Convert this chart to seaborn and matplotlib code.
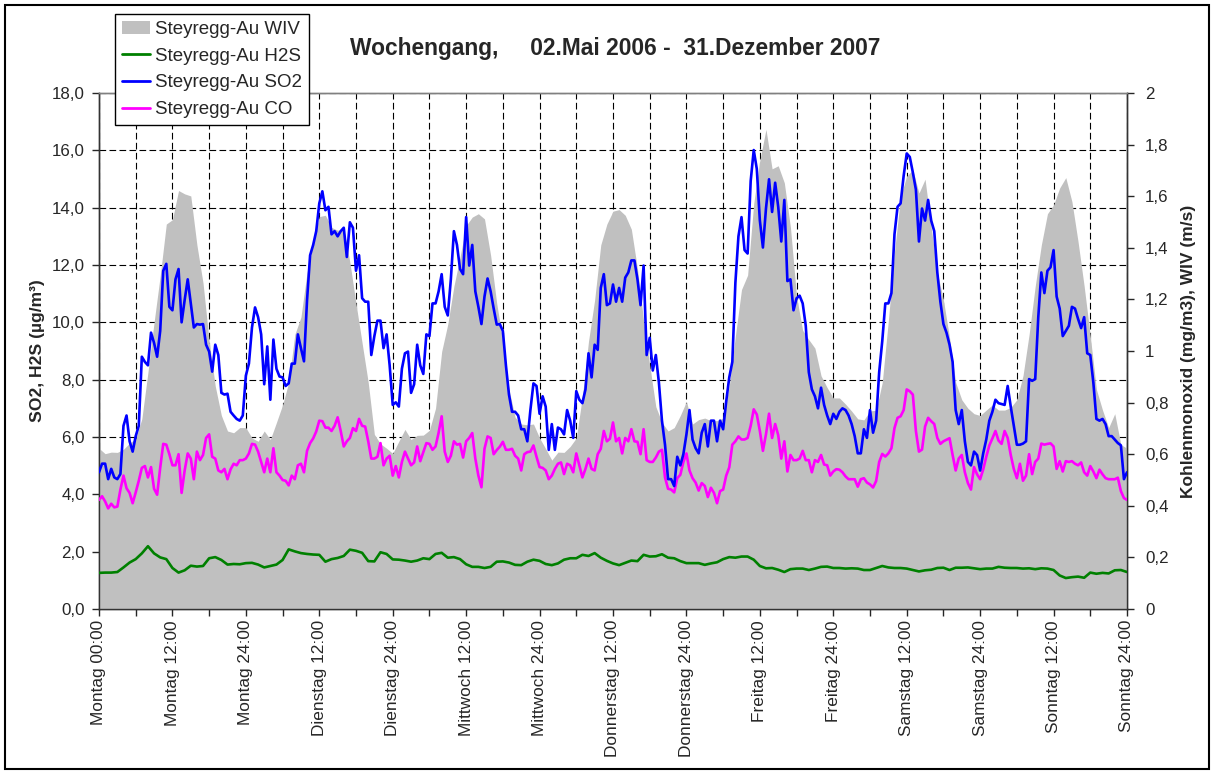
import numpy as np
import seaborn as sns
import matplotlib.pyplot as plt
from matplotlib.ticker import MultipleLocator, FuncFormatter
from matplotlib.patches import Patch, Rectangle
from matplotlib.lines import Line2D

# Wochengang Steyregg-Au, Stundenwerte (WIV, H2S) und Halbstundenwerte (SO2, CO)
# WIV in m/s (rechte Achse)
wiv = [0.623, 0.602, 0.608, 0.607, 0.619, 0.643, 0.660, 0.737, 0.918, 1.111,
       1.291, 1.492, 1.509, 1.622, 1.609, 1.601, 1.411, 1.264, 1.038, 0.864,
       0.750, 0.690, 0.683, 0.703, 0.703, 0.663, 0.650, 0.690, 0.657, 0.723,
       0.791, 0.878, 1.064, 1.131, 1.304, 1.418, 1.521, 1.526, 1.479, 1.468,
       1.472, 1.344, 1.184, 1.031, 0.878, 0.677, 0.640, 0.623, 0.603, 0.650,
       0.696, 0.657, 0.673, 0.674, 0.693, 0.778, 0.998, 1.104, 1.251, 1.364,
       1.486, 1.519, 1.532, 1.512, 1.371, 1.184, 1.038, 0.851, 0.743, 0.717,
       0.714, 0.717, 0.663, 0.621, 0.577, 0.608, 0.607, 0.630, 0.663, 0.824,
       1.038, 1.198, 1.411, 1.492, 1.542, 1.548, 1.526, 1.472, 1.318, 1.118,
       0.944, 0.784, 0.723, 0.690, 0.703, 0.750, 0.804, 0.717, 0.734, 0.740,
       0.730, 0.730, 0.741, 0.864, 1.058, 1.238, 1.294, 1.572, 1.739, 1.859,
       1.706, 1.718, 1.652, 1.479, 1.211, 1.080, 1.044, 1.011, 0.904, 0.858,
       0.818, 0.818, 0.794, 0.767, 0.737, 0.733, 0.768, 0.770, 0.878, 1.118,
       1.384, 1.599, 1.678, 1.702, 1.612, 1.666, 1.479, 1.304, 1.198, 1.051,
       0.878, 0.811, 0.778, 0.757, 0.750, 0.771, 0.791, 0.771, 0.771, 0.781,
       0.811, 0.904, 1.064, 1.251, 1.411, 1.532, 1.566, 1.632, 1.672, 1.579,
       1.424, 1.251, 1.058, 0.851, 0.771, 0.703, 0.757, 0.637, 0.623]

# H2S in µg/m³ (linke Achse)
h2s = [1.26, 1.27, 1.27, 1.29, 1.45, 1.62, 1.74, 1.94, 2.19, 1.94,
       1.80, 1.74, 1.43, 1.27, 1.35, 1.51, 1.48, 1.50, 1.77, 1.81,
       1.71, 1.55, 1.57, 1.56, 1.60, 1.61, 1.55, 1.45, 1.50, 1.55,
       1.71, 2.08, 2.01, 1.95, 1.92, 1.90, 1.89, 1.65, 1.74, 1.78,
       1.85, 2.07, 2.03, 1.96, 1.67, 1.66, 1.98, 1.92, 1.73, 1.72,
       1.69, 1.65, 1.69, 1.77, 1.74, 1.92, 1.96, 1.79, 1.81, 1.74,
       1.56, 1.47, 1.47, 1.43, 1.47, 1.65, 1.66, 1.62, 1.54, 1.53,
       1.65, 1.72, 1.68, 1.57, 1.53, 1.59, 1.72, 1.77, 1.77, 1.89,
       1.85, 1.95, 1.79, 1.68, 1.59, 1.53, 1.61, 1.69, 1.67, 1.89,
       1.83, 1.84, 1.91, 1.79, 1.77, 1.67, 1.60, 1.60, 1.60, 1.54,
       1.59, 1.63, 1.74, 1.81, 1.79, 1.83, 1.83, 1.72, 1.50, 1.42,
       1.43, 1.37, 1.29, 1.39, 1.41, 1.41, 1.36, 1.41, 1.47, 1.48,
       1.43, 1.43, 1.41, 1.42, 1.41, 1.36, 1.36, 1.43, 1.50, 1.45,
       1.43, 1.43, 1.41, 1.36, 1.31, 1.35, 1.37, 1.43, 1.44, 1.36,
       1.44, 1.44, 1.45, 1.42, 1.39, 1.41, 1.41, 1.47, 1.44, 1.43,
       1.43, 1.41, 1.42, 1.39, 1.42, 1.41, 1.36, 1.17, 1.08, 1.11,
       1.13, 1.09, 1.27, 1.23, 1.26, 1.24, 1.35, 1.36, 1.29]

# SO2 in µg/m³ (linke Achse), halbstündlich
so2 = [4.77, 5.07, 5.07, 4.53, 4.89, 4.59, 4.53, 4.71, 6.39, 6.75,
       5.85, 5.49, 6.03, 6.39, 8.80, 8.62, 8.50, 9.64, 9.28, 8.80,
       9.70, 11.80, 12.04, 10.54, 10.42, 11.50, 11.86, 10.00, 10.78, 11.50,
       10.66, 9.82, 9.94, 9.92, 9.94, 9.22, 8.98, 8.28, 9.22, 8.86,
       7.54, 7.48, 7.51, 6.88, 6.75, 6.63, 6.57, 6.75, 8.14, 8.56,
       9.82, 10.52, 10.18, 9.58, 7.84, 9.16, 7.30, 9.40, 8.38, 8.11,
       8.08, 7.78, 7.87, 8.56, 8.56, 9.58, 9.10, 8.64, 10.78, 12.34,
       12.70, 13.18, 14.15, 14.57, 13.91, 14.03, 13.07, 13.18, 13.00, 13.18,
       13.30, 12.28, 13.49, 13.30, 11.80, 12.34, 10.84, 10.72, 10.72, 8.86,
       9.52, 10.06, 10.06, 9.10, 9.58, 8.50, 7.12, 7.21, 7.06, 8.38,
       8.92, 8.98, 7.54, 7.84, 9.22, 8.50, 8.20, 9.58, 9.52, 10.66,
       10.66, 11.08, 11.68, 10.54, 10.24, 11.50, 13.18, 12.70, 11.86, 11.68,
       13.67, 11.98, 12.70, 11.08, 10.54, 9.94, 10.90, 11.53, 11.08, 10.48,
       9.92, 9.94, 9.70, 8.50, 7.48, 6.88, 6.88, 6.75, 6.27, 6.27,
       5.85, 6.94, 7.87, 7.78, 6.81, 7.42, 7.06, 5.55, 6.45, 5.55,
       6.33, 6.27, 6.09, 6.94, 6.57, 5.97, 7.60, 7.30, 7.18, 7.66,
       8.92, 8.08, 9.22, 9.04, 11.20, 11.68, 10.60, 10.66, 11.32, 10.72,
       11.20, 10.72, 11.56, 11.74, 12.16, 12.16, 11.50, 10.60, 11.98, 8.86,
       9.46, 8.32, 8.86, 7.90, 6.57, 5.73, 4.53, 4.53, 4.29, 5.31,
       5.01, 5.40, 6.09, 6.94, 5.91, 5.61, 5.43, 6.15, 6.45, 5.67,
       6.57, 6.57, 5.85, 6.57, 6.27, 7.24, 8.08, 8.62, 11.38, 13.00,
       13.67, 12.52, 12.40, 14.93, 16.01, 15.35, 13.55, 12.61, 13.97, 14.99,
       13.85, 14.87, 14.03, 12.82, 14.27, 11.44, 11.50, 10.42, 10.84, 10.93,
       10.66, 9.88, 8.26, 7.66, 7.42, 7.00, 7.72, 7.12, 6.75, 6.45,
       6.81, 6.63, 6.88, 7.00, 6.94, 6.75, 6.45, 6.03, 5.43, 5.43,
       6.27, 5.97, 6.94, 6.15, 6.57, 8.26, 9.34, 10.66, 10.66, 11.02,
       13.07, 14.03, 14.15, 15.11, 15.89, 15.77, 15.23, 14.63, 12.82, 13.97,
       13.55, 14.27, 13.55, 13.18, 11.74, 10.72, 9.94, 9.64, 9.22, 8.62,
       6.94, 6.45, 6.94, 5.85, 5.13, 5.01, 5.49, 5.37, 4.83, 5.43,
       5.91, 6.57, 6.88, 7.30, 7.18, 7.15, 7.12, 7.78, 7.06, 6.39,
       5.73, 5.73, 5.77, 5.85, 8.02, 7.96, 8.02, 10.18, 11.74, 11.02,
       11.80, 11.92, 12.52, 10.90, 10.48, 9.52, 9.70, 9.88, 10.54, 10.48,
       10.12, 9.80, 10.18, 8.92, 8.86, 7.90, 6.63, 6.57, 6.63, 6.45,
       6.03, 6.03, 5.91, 5.79, 5.71, 4.53, 4.77]

# CO in mg/m³ (rechte Achse), halbstündlich
co = [0.423, 0.437, 0.417, 0.390, 0.408, 0.394, 0.397, 0.463, 0.517, 0.468,
      0.450, 0.410, 0.452, 0.497, 0.547, 0.554, 0.510, 0.550, 0.466, 0.443,
      0.547, 0.640, 0.637, 0.600, 0.557, 0.557, 0.600, 0.450, 0.537, 0.603,
      0.583, 0.503, 0.610, 0.577, 0.597, 0.663, 0.677, 0.590, 0.583, 0.537,
      0.530, 0.543, 0.503, 0.541, 0.563, 0.557, 0.577, 0.577, 0.583, 0.603,
      0.640, 0.637, 0.610, 0.570, 0.530, 0.583, 0.530, 0.623, 0.530, 0.517,
      0.500, 0.497, 0.479, 0.517, 0.503, 0.557, 0.563, 0.530, 0.613, 0.643,
      0.661, 0.688, 0.730, 0.728, 0.703, 0.703, 0.690, 0.710, 0.743, 0.690,
      0.630, 0.650, 0.663, 0.701, 0.690, 0.737, 0.710, 0.707, 0.650, 0.583,
      0.583, 0.590, 0.643, 0.557, 0.583, 0.594, 0.517, 0.554, 0.510, 0.570,
      0.610, 0.583, 0.557, 0.568, 0.630, 0.573, 0.608, 0.643, 0.640, 0.617,
      0.630, 0.683, 0.747, 0.610, 0.570, 0.594, 0.650, 0.637, 0.640, 0.587,
      0.650, 0.663, 0.682, 0.583, 0.517, 0.472, 0.621, 0.669, 0.663, 0.600,
      0.616, 0.629, 0.648, 0.617, 0.617, 0.621, 0.594, 0.583, 0.537, 0.600,
      0.608, 0.610, 0.634, 0.590, 0.550, 0.547, 0.537, 0.503, 0.517, 0.543,
      0.563, 0.568, 0.523, 0.563, 0.557, 0.530, 0.603, 0.557, 0.510, 0.543,
      0.583, 0.543, 0.537, 0.600, 0.621, 0.690, 0.650, 0.660, 0.723, 0.650,
      0.663, 0.603, 0.663, 0.650, 0.697, 0.650, 0.648, 0.600, 0.697, 0.577,
      0.570, 0.570, 0.587, 0.610, 0.617, 0.510, 0.466, 0.463, 0.452, 0.507,
      0.520, 0.570, 0.603, 0.537, 0.507, 0.490, 0.459, 0.488, 0.477, 0.434,
      0.470, 0.450, 0.410, 0.457, 0.463, 0.517, 0.549, 0.637, 0.650, 0.669,
      0.657, 0.657, 0.663, 0.710, 0.774, 0.754, 0.690, 0.613, 0.677, 0.757,
      0.663, 0.717, 0.674, 0.583, 0.650, 0.533, 0.597, 0.577, 0.577, 0.583,
      0.613, 0.577, 0.577, 0.530, 0.577, 0.570, 0.597, 0.560, 0.557, 0.517,
      0.533, 0.542, 0.540, 0.530, 0.514, 0.503, 0.503, 0.503, 0.474, 0.503,
      0.507, 0.490, 0.483, 0.471, 0.496, 0.570, 0.601, 0.591, 0.603, 0.623,
      0.701, 0.741, 0.747, 0.771, 0.851, 0.844, 0.831, 0.690, 0.610, 0.618,
      0.707, 0.741, 0.728, 0.717, 0.663, 0.640, 0.650, 0.656, 0.662, 0.597,
      0.537, 0.583, 0.597, 0.530, 0.488, 0.463, 0.550, 0.522, 0.503, 0.541,
      0.590, 0.634, 0.661, 0.690, 0.653, 0.640, 0.690, 0.663, 0.597, 0.543,
      0.507, 0.563, 0.497, 0.517, 0.600, 0.523, 0.570, 0.583, 0.641, 0.637,
      0.640, 0.642, 0.630, 0.543, 0.573, 0.533, 0.573, 0.570, 0.573, 0.563,
      0.557, 0.568, 0.530, 0.517, 0.554, 0.533, 0.507, 0.540, 0.522, 0.507,
      0.503, 0.503, 0.503, 0.509, 0.457, 0.430, 0.423]

tick_labels = ["Montag 00:00", "Montag 12:00", "Montag 24:00", "Dienstag 12:00",
               "Dienstag 24:00", "Mittwoch 12:00", "Mittwoch 24:00",
               "Donnerstag 12:00", "Donnerstag 24:00", "Freitag 12:00",
               "Freitag 24:00", "Samstag 12:00", "Samstag 24:00",
               "Sonntag 12:00", "Sonntag 24:00"]

t_h = np.linspace(0, 168, len(wiv))
t_hh = np.linspace(0, 168, len(so2))

sns.set_theme(style="white")
plt.rcParams['font.family'] = ['Liberation Sans', 'DejaVu Sans']

fig = plt.figure(figsize=(12.14, 7.74), dpi=100)
rect = [99/1214, 165/774, 1028/1214, 516/774]

# unterste Ebene: Gitter + linke Achse
ax = fig.add_axes(rect)
ax.set_zorder(1)
ax.set_xlim(0, 168)
ax.set_ylim(0, 18)
ax.xaxis.set_major_locator(MultipleLocator(12))
ax.xaxis.set_minor_locator(MultipleLocator(6))
ax.yaxis.set_major_locator(MultipleLocator(2))
ax.set_xticks(np.arange(0, 169, 12))
ax.set_xticklabels(tick_labels, rotation=90, fontsize=12.4)
ax.yaxis.set_major_formatter(FuncFormatter(lambda v, _: f"{v:.1f}".replace(".", ",")))
ax.tick_params(axis="y", labelsize=12.2, direction="out", length=5, width=1, pad=5, left=True)
ax.tick_params(axis="x", which="both", direction="out", length=5, width=1, pad=3, bottom=True)
ax.grid(True, axis="x", which="both", color="black", linestyle=(0, (6, 3)), linewidth=0.8)
ax.grid(True, axis="y", which="major", color="black", linestyle=(0, (6, 3)), linewidth=0.8)
ax.set_ylabel("SO2, H2S (µg/m³)", fontsize=12.6, fontweight="bold", labelpad=5)

# mittlere Ebene: rechte Achse, WIV-Flaeche und CO
axr = ax.twinx()
axr.set_zorder(2)
axr.patch.set_visible(False)
axr.set_ylim(0, 2)
axr.fill_between(t_h, wiv, 0, color="#C0C0C0", linewidth=0, zorder=1)
sns.lineplot(x=t_hh, y=co, ax=axr, color="#FF00FF", linewidth=1.9, zorder=3, legend=False)
axr.yaxis.set_major_locator(MultipleLocator(0.2))
axr.yaxis.set_major_formatter(FuncFormatter(
    lambda v, _: f"{v:.1f}".rstrip("0").rstrip(".").replace(".", ",")))
axr.tick_params(axis="y", labelsize=12.2, direction="out", length=5, width=1, pad=8, right=True)
axr.set_ylabel("Kohlenmonoxid (mg/m3), WIV (m/s)", fontsize=12.5, fontweight="bold", labelpad=9)
axr.set_xlim(0, 168)

# oberste Ebene: SO2 und H2S
axl = fig.add_axes(rect, sharex=ax, sharey=ax)
axl.set_zorder(3)
axl.patch.set_visible(False)
sns.lineplot(x=t_h, y=h2s, ax=axl, color="#008000", linewidth=1.9, legend=False)
sns.lineplot(x=t_hh, y=so2, ax=axl, color="#0000FF", linewidth=1.9, legend=False)
axl.set_axis_off()

for a in (ax, axr):
    for s in a.spines.values():
        s.set_color("#333333")
        s.set_linewidth(1.0)
    a.spines["top"].set_color("#808080")
    a.set_xlabel("")

handles = [Patch(facecolor="#C0C0C0", edgecolor="none"),
           Line2D([], [], color="#008000", linewidth=2),
           Line2D([], [], color="#0000FF", linewidth=2),
           Line2D([], [], color="#FF00FF", linewidth=2)]
labels = ["Steyregg-Au WIV", "Steyregg-Au H2S", "Steyregg-Au SO2", "Steyregg-Au CO"]
leg = fig.legend(handles, labels, loc="upper left", bbox_to_anchor=(115/1214, 1 - 14/774),
                 fontsize=13.5, frameon=True, fancybox=False, framealpha=1,
                 edgecolor="black", borderpad=0.35, labelspacing=0.52,
                 handlelength=1.5, handletextpad=0.3, borderaxespad=0)
leg.get_frame().set_linewidth(1.0)

fig.text(615/1214, 1 - 48/774, "Wochengang,     02.Mai 2006 -  31.Dezember 2007",
         ha="center", va="center", fontsize=16.4, fontweight="bold")

fig.patches.append(Rectangle((5/1214, 5/774), 1204/1214, 764/774, transform=fig.transFigure,
                             fill=False, edgecolor="black", linewidth=1.5))

plt.savefig("out.png", dpi=100)
